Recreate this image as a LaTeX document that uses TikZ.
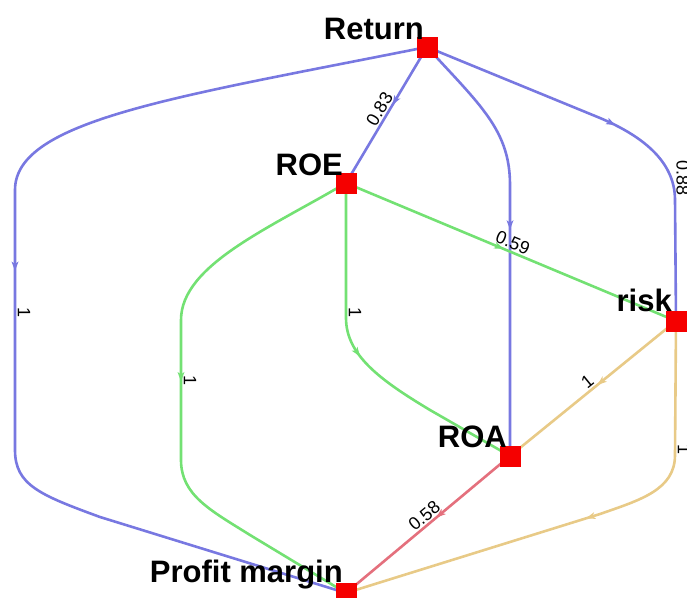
\documentclass[tikz,border=0pt]{standalone}
\usepackage{fontspec}
\setmainfont{Liberation Sans}
\usetikzlibrary{backgrounds}
\definecolor{blueE}{RGB}{120,120,225}
\definecolor{greenE}{RGB}{115,225,115}
\definecolor{orangeE}{RGB}{232,202,135}
\definecolor{redE}{RGB}{228,112,125}
\definecolor{nodeR}{RGB}{245,0,0}
\tikzset{
 sq/.style={rectangle, fill=nodeR, minimum size=21pt, inner sep=0pt},
 nlabel/.style={anchor=base east, inner sep=0pt, font=\fontsize{31}{36}\selectfont\bfseries},
 elab/.style={font=\fontsize{18}{20}\selectfont, inner sep=1.5pt},
 vlab/.style={elab, rotate=-90, anchor=south},
 ln/.style={line width=2.6pt, line join=round},
 arw/.style={sloped, allow upside down},
 etip/.pic={\fill[#1] (4pt,0) -- (-5.5pt,3.5pt) -- (-3pt,0) -- (-5.5pt,-3.5pt) -- cycle;},
}
\begin{document}
\begin{tikzpicture}[x=1pt,y=-1pt]
\useasboundingbox (0,0) rectangle (687,597);
\node[sq] (Return) at (427,47) {};
\node[sq] (ROE) at (346,183) {};
\node[sq] (risk) at (676,321) {};
\node[sq] (ROA) at (510,456) {};
\node[sq] (PM) at (346,593) {};
\node[nlabel] (Return-l) at (424,39) {Return};
\node[nlabel] (ROE-l) at (343,175) {ROE};
\node[nlabel] (risk-l) at (672,311) {risk};
\node[nlabel] (ROA-l) at (507,447) {ROA};
\node[nlabel] (PM-l) at (343,582) {Profit margin};
\begin{pgfonlayer}{background}
% Return -> ROE
\draw[ln, blueE] (Return.center) -- pic[pos=0.40, arw]{etip=blueE}
  node[elab, pos=0.49, sloped, above, text=black]{0.83} (ROE.center);
% Return -> Profit margin
\draw[ln, blueE] (Return.center) .. controls (177,97) and (15,120) .. (15,190)
  -- pic[pos=0.296, arw]{etip=blueE} node[vlab, pos=0.47, text=black]{1} (15,450)
  .. controls (15,485) and (40,495) .. (100,517) -- (PM.center);
% Return -> ROA
\draw[ln, blueE] (Return.center) .. controls (480,105) and (510,130) .. (510,185)
  -- pic[pos=0.15, arw]{etip=blueE} (ROA.center);
% Return -> risk
\draw[ln, blueE] (Return.center) -- (600,118) .. controls (640,135) and (675,160) ..
  pic[pos=0.1, arw]{etip=blueE} node[vlab, pos=0.8, inner sep=4pt, text=black]{0.88} (675,200)
  -- (risk.center);
% ROE -> risk
\draw[ln, greenE] (ROE.center) -- pic[pos=0.466, arw]{etip=greenE}
  node[elab, pos=0.495, sloped, above, text=black]{0.59} (risk.center);
% ROE -> Profit margin
\draw[ln, greenE] (ROE.center) .. controls (270,228) and (181,265) .. (181,320)
  -- pic[pos=0.41, arw]{etip=greenE} node[vlab, pos=0.43, text=black]{1} (181,460)
  .. controls (181,495) and (210,510) .. (250,535) -- (PM.center);
% ROE -> ROA
\draw[ln, greenE] (ROE.center) -- node[vlab, pos=0.96, text=black]{1} (346,318)
  .. controls (346,355) and (380,380) .. pic[pos=0.35, arw]{etip=greenE} (430,410)
  -- (ROA.center);
% risk -> ROA
\draw[ln, orangeE] (risk.center) -- pic[pos=0.455, arw]{etip=orangeE}
  node[elab, pos=0.50, sloped, above, text=black]{1} (ROA.center);
% risk -> Profit margin
\draw[ln, orangeE] (risk.center) -- node[vlab, pos=0.96, text=black]{1} (675,455)
  .. controls (675,490) and (640,500) .. (600,514)
  -- pic[pos=0.04, arw]{etip=orangeE} (PM.center);
% ROA -> Profit margin
\draw[ln, redE] (ROA.center) -- pic[pos=0.43, arw]{etip=redE}
  node[elab, pos=0.487, sloped, above, text=black]{0.58} (PM.center);
\end{pgfonlayer}
\end{tikzpicture}
\end{document}
